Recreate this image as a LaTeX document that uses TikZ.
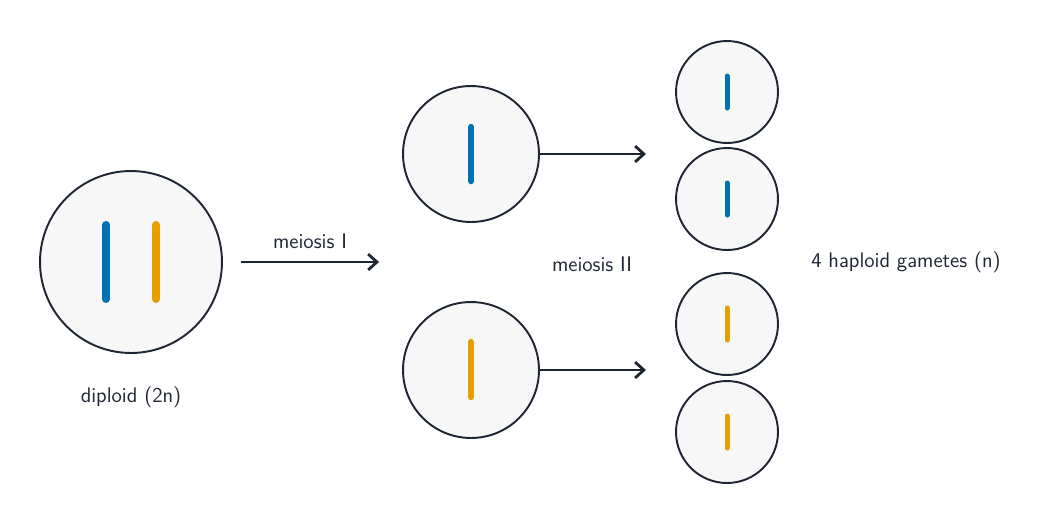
\documentclass[tikz,border=0pt]{standalone}
\usepackage{tikz}
\usetikzlibrary{arrows.meta,positioning}
\definecolor{ink}{HTML}{1F2633}
\definecolor{cellfill}{HTML}{F7F7F7}
\definecolor{chromA}{HTML}{0072B2}
\definecolor{chromB}{HTML}{E69F00}
\tikzset{>={Straight Barb[length=5pt,width=9pt]},
    cell/.style={circle,draw=ink,line width=1.1pt,fill=cellfill,inner sep=0pt},
    flow/.style={->,draw=ink,line width=1.6pt},
    lbl/.style={text=ink,font=\sffamily\large}}
\begin{document}
\begin{tikzpicture}[x=0.02cm,y=-0.02cm]
    \useasboundingbox (0,0) rectangle (1058,525);
        \node[cell,minimum size=3.64cm] (d) at (131,262) {};
        \node[cell,minimum size=2.72cm] (m1) at (471,154) {};
        \node[cell,minimum size=2.72cm] (m2) at (471,370) {};
        \node[cell,minimum size=2.04cm] (g1) at (727,92) {};
        \node[cell,minimum size=2.04cm] (g2) at (727,199) {};
        \node[cell,minimum size=2.04cm] (g3) at (727,324) {};
        \node[cell,minimum size=2.04cm] (g4) at (727,432) {};
    % chromosomes
    \draw[chromA,line width=0.16cm,line cap=round] (106,225) -- (106,299);
    \draw[chromB,line width=0.16cm,line cap=round] (156,225) -- (156,299);
    \draw[chromA,line width=0.13cm,line cap=round] (471,127) -- (471,181);
    \draw[chromB,line width=0.13cm,line cap=round] (471,342) -- (471,397);
    \foreach \g/\c in {g1/chromA,g2/chromA,g3/chromB,g4/chromB}
        \draw[\c,line width=0.1cm,line cap=round] ([yshift=0.32cm]\g.center) -- ([yshift=-0.32cm]\g.center);
    % arrows
    \coordinate (t1) at (646,154);
    \coordinate (t2) at (646,370);
    \draw[flow,shorten <=0.36cm,shorten >=0.46cm] (d) -- (d -| m1.west);
    \draw[flow] (m1.east) -- (t1);
    \draw[flow] (m2.east) -- (t2);
    % labels
    \node[lbl] (l1) at (310,241) {meiosis I};
    \node[lbl] (l2) at (592,264) {meiosis II};
    \node[lbl] (l3) at (906,262) {4 haploid gametes (n)};
    \node[lbl] (l4) at (131,397) {diploid (2n)};
\end{tikzpicture}
\end{document}
